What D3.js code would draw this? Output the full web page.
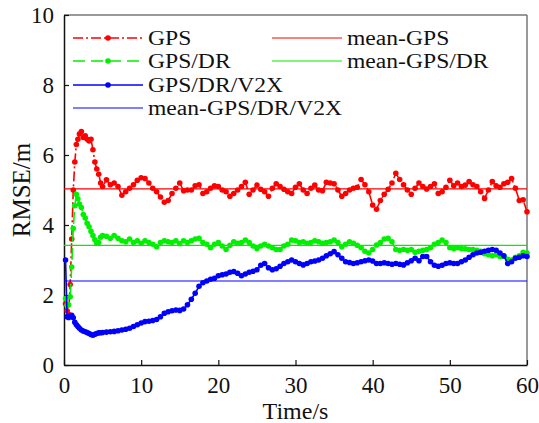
<!DOCTYPE html>
<html>
<head>
<meta charset="utf-8">
<script src="https://cdn.jsdelivr.net/npm/d3@7"></script>
<style>
  html, body { margin: 0; padding: 0; background: #fff; }
  svg { display: block; }
  text { font-family: "Liberation Serif", "Times New Roman", serif; fill: #111; }
</style>
</head>
<body>
<svg id="chart" width="539" height="423"></svg>
<script>
// ---- data ----
const timeEarly = [0.2,0.4,0.6,0.8,1.0,1.2,1.4,1.6,1.8,2.0,2.25,2.5,2.75,3.0,3.25,3.5,3.75,4.0,4.25,4.5,4.75];
const timeLate = d3.range(0, 111).map(i => 5 + i * 0.5);
const time = timeEarly.concat(timeLate);

const gps = [
  1.75,1.55,1.45,2.3,3.6,5.0,5.8,6.3,6.45,6.6,6.67,6.5,6.55,6.45,6.4,6.45,6.15,5.8,5.6,5.45,5.2,
  5.1,5.29,5.15,5.2,5.1,4.85,4.95,5.05,5.15,5.28,
  5.35,5.33,5.2,5.05,4.95,4.8,4.65,4.7,4.9,5.05,
  5.2,4.98,5.0,5.0,5.12,5.15,4.9,4.95,5.05,5.12,
  5.1,5.0,4.95,4.82,4.9,5.0,5.1,5.22,4.88,5.0,
  5.14,5.02,4.95,4.82,5.05,5.18,5.1,5.02,4.95,4.9,
  5.08,5.18,5.0,4.9,5.05,5.14,5.0,4.98,5.22,5.2,
  5.18,5.0,4.82,4.9,5.0,5.05,5.08,5.3,5.15,4.95,
  4.57,4.45,4.7,4.88,5.02,5.2,5.48,5.3,5.15,5.0,
  4.88,5.05,5.2,5.1,5.03,5.1,5.18,4.9,4.95,5.08,
  5.28,5.12,5.2,5.1,5.14,5.24,5.15,5.1,4.95,4.76,
  5.0,5.24,5.12,5.08,5.18,5.22,5.33,5.05,4.7,4.72,
  4.38
];
const gpsDr = [
  1.9,1.7,1.72,1.95,2.8,3.9,4.55,4.88,4.75,4.6,4.5,4.3,4.2,4.05,3.95,3.82,3.7,3.58,3.48,3.5,3.65,
  3.7,3.68,3.62,3.7,3.62,3.55,3.52,3.6,3.5,3.55,
  3.48,3.55,3.5,3.45,3.38,3.5,3.55,3.52,3.5,3.55,
  3.47,3.55,3.5,3.55,3.6,3.62,3.5,3.45,3.35,3.45,
  3.5,3.4,3.3,3.42,3.52,3.48,3.5,3.57,3.5,3.4,
  3.33,3.4,3.45,3.4,3.35,3.3,3.3,3.4,3.45,3.57,
  3.55,3.5,3.52,3.48,3.5,3.55,3.52,3.48,3.5,3.52,
  3.57,3.5,3.38,3.45,3.52,3.48,3.42,3.35,3.25,3.2,
  3.3,3.43,3.5,3.6,3.62,3.52,3.3,3.28,3.3,3.28,
  3.3,3.22,3.25,3.28,3.3,3.35,3.45,3.5,3.57,3.5,
  3.35,3.33,3.35,3.33,3.32,3.3,3.3,3.28,3.25,3.18,
  3.15,3.12,3.15,3.1,3.1,3.02,3.0,3.08,3.12,3.22,
  3.2
];
const gpsDrV2x = [
  3.0,1.38,1.36,1.4,1.42,1.35,1.22,1.15,1.1,1.05,1.0,0.97,0.95,0.93,0.9,0.87,0.85,0.88,0.9,0.92,0.92,
  0.93,0.94,0.95,0.96,0.98,1.0,1.02,1.05,1.1,1.15,
  1.2,1.24,1.25,1.27,1.3,1.38,1.48,1.52,1.55,1.57,
  1.56,1.6,1.72,1.88,2.05,2.25,2.35,2.4,2.45,2.48,
  2.55,2.58,2.6,2.65,2.67,2.62,2.55,2.6,2.65,2.68,
  2.72,2.85,2.9,2.78,2.72,2.75,2.82,2.9,2.95,3.0,
  2.95,2.9,2.86,2.9,2.95,2.97,3.0,3.05,3.12,3.18,
  3.24,3.15,3.05,2.95,2.93,2.9,2.92,2.95,2.98,3.0,
  2.97,2.9,2.9,2.92,2.9,2.88,2.9,2.88,2.86,2.92,
  2.98,3.05,2.98,3.1,3.1,2.95,2.85,2.82,2.85,2.9,
  2.92,2.9,2.9,2.95,3.0,3.08,3.15,3.2,3.22,3.25,
  3.28,3.3,3.28,3.2,3.12,2.9,2.95,3.05,3.08,3.12,
  3.1
];
const meanGps = 5.03;
const meanGpsDr = 3.42;
const meanGpsDrV2x = 2.4;

const xTicks = [0,10,20,30,40,50,60];
const yTicks = [0,2,4,6,8,10];
const seriesNames = ["GPS","GPS/DR","GPS/DR/V2X"];
const meanNames = ["mean-GPS","mean-GPS/DR","mean-GPS/DR/V2X"];
const colors = ["#ff0000","#00f000","#0000ff"];

// ---- layout ----
const svg = d3.select("#chart");
const L = 64, R = 527, T = 15, B = 365;
const x = d3.scaleLinear().domain([0,60]).range([L,R]);
const y = d3.scaleLinear().domain([0,10]).range([B,T]);

// frame top/right
svg.append("line").attr("x1",L).attr("x2",R).attr("y1",T).attr("y2",T).attr("stroke","#777").attr("stroke-width",1.5);
svg.append("line").attr("x1",R).attr("x2",R).attr("y1",T).attr("y2",B).attr("stroke","#777").attr("stroke-width",1.5);

// axes
const xAxis = d3.axisBottom(x).tickValues(xTicks).tickSizeInner(-5).tickSizeOuter(0).tickPadding(12);
const yAxis = d3.axisLeft(y).tickValues(yTicks).tickSizeInner(-5).tickSizeOuter(0).tickPadding(10);
const gx = svg.append("g").attr("transform",`translate(0,${B})`).call(xAxis);
const gy = svg.append("g").attr("transform",`translate(${L},0)`).call(yAxis);
[gx,gy].forEach(g => {
  g.select(".domain").attr("stroke","#111").attr("stroke-width",1.5);
  g.selectAll(".tick line").attr("stroke","#111").attr("stroke-width",1.2);
  g.selectAll(".tick text").attr("font-size",23).attr("font-family","Liberation Serif").attr("fill","#111");
});

// axis titles
svg.append("text").attr("x",(L+R)/2).attr("y",419).attr("text-anchor","middle").attr("font-size",24).text("Time/s");
svg.append("text").attr("transform",`translate(30,${(T+B)/2}) rotate(-90)`).attr("text-anchor","middle").attr("font-size",25).text("RMSE/m");

// series
const allSeries = [gps, gpsDr, gpsDrV2x];
const dashes = ["10,3,2,3","12,6",null];
const line = d3.line().x(d => x(d[0])).y(d => y(d[1]));

allSeries.forEach((vals, k) => {
  const pts = vals.map((v,i) => [time[i], v]);
  const p = svg.append("path").datum(pts).attr("d",line).attr("fill","none")
    .attr("stroke",colors[k]).attr("stroke-width",1.6);
  if (dashes[k]) p.attr("stroke-dasharray",dashes[k]);
  svg.append("g").selectAll("circle").data(pts).join("circle")
    .attr("cx",d => x(d[0])).attr("cy",d => y(d[1])).attr("r",2.8).attr("fill",colors[k]);
});

// mean lines
[meanGps, meanGpsDr, meanGpsDrV2x].forEach((m,k) => {
  svg.append("line").attr("x1",L).attr("x2",R).attr("y1",y(m)).attr("y2",y(m))
    .attr("stroke",colors[k]).attr("stroke-width",1.2);
});

// legend
const legendItems = [
  {name: seriesNames[0], c: colors[0], dash: dashes[0], marker: true,  x: 73,  y: 38},
  {name: seriesNames[1], c: colors[1], dash: dashes[1], marker: true,  x: 73,  y: 61},
  {name: seriesNames[2], c: colors[2], dash: null,      marker: true,  x: 73,  y: 85},
  {name: meanNames[2],   c: colors[2], dash: null,      marker: false, x: 73,  y: 108},
  {name: meanNames[0],   c: colors[0], dash: null,      marker: false, x: 272, y: 38},
  {name: meanNames[1],   c: colors[1], dash: null,      marker: false, x: 272, y: 61}
];
legendItems.forEach(it => {
  const g = svg.append("g");
  const ln = g.append("line").attr("x1",it.x).attr("x2",it.x+70).attr("y1",it.y).attr("y2",it.y)
    .attr("stroke",it.c).attr("stroke-width",it.marker ? 1.5 : 1.2);
  if (it.dash) ln.attr("stroke-dasharray",it.dash);
  if (it.marker) g.append("circle").attr("cx",it.x+35).attr("cy",it.y).attr("r",2.8).attr("fill",it.c);
  const t = g.append("text").attr("x",it.x+75).attr("y",it.y+7).attr("font-size",20).text(it.name);
  const w = t.node().getComputedTextLength();
  t.attr("textLength", w * 1.18).attr("lengthAdjust","spacingAndGlyphs");
});
</script>
</body>
</html>
